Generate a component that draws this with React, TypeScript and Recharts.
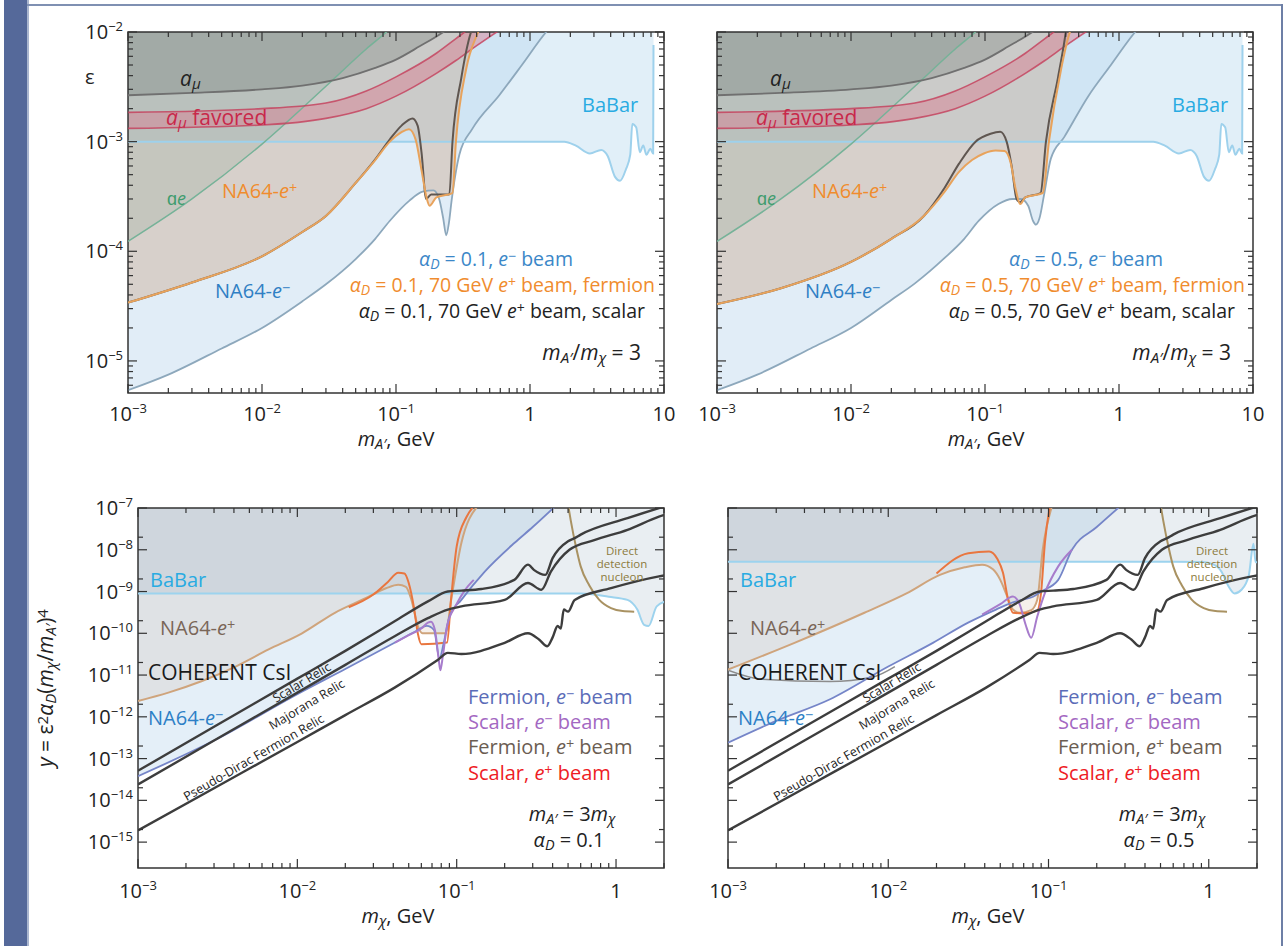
import React from "react"
import { ComposedChart, XAxis, YAxis, Area, Line, ReferenceArea } from "recharts"

type Pt = [number, number]
type BandPt = [number, number, number]

// ---------- top panels: epsilon vs m_A' (GeV) ----------
const amu: Pt[] = [[1e-3, 2.65e-3], [3e-3, 2.78e-3], [1e-2, 3.0e-3], [2e-2, 3.25e-3], [4e-2, 3.8e-3], [7e-2, 4.7e-3], [0.1, 5.6e-3], [0.15, 7.4e-3], [0.22, 9.8e-3], [0.3, 1.3e-2]]
const amuFavored: BandPt[] = [[1e-3, 1.32e-3, 1.85e-3], [1e-2, 1.42e-3, 2.0e-3], [3e-2, 1.63e-3, 2.25e-3], [6e-2, 2.0e-3, 2.9e-3], [0.1, 2.6e-3, 3.9e-3], [0.2, 4.2e-3, 6.4e-3], [0.28, 5.5e-3, 8.7e-3], [0.4, 7.5e-3, 1.2e-2], [0.6, 1.05e-2, 1.6e-2]]
const ae: Pt[] = [[1e-3, 1.23e-4], [3e-3, 3.0e-4], [1e-2, 9.5e-4], [3e-2, 3.2e-3], [6e-2, 7.0e-3], [0.085, 1.0e-2], [0.1, 1.2e-2]]
const babarTop: Pt[] = [[1e-3, 1e-3], [1.8, 1e-3], [2.2, 9.2e-4], [2.8, 7.8e-4], [3.4, 8.4e-4], [3.8, 7.4e-4], [4.3, 4.8e-4], [4.7, 4.4e-4], [5.2, 5.6e-4], [5.6, 7.6e-4], [5.8, 1.45e-3], [6.2, 1.35e-3], [6.6, 8.0e-4], [7.0, 9.2e-4], [7.4, 7.6e-4], [7.9, 8.6e-4], [8.3, 7.8e-4], [8.35, 7.6e-3]]

const na64eMinus01: Pt[] = [[1e-3, 5.4e-6], [2e-3, 7.5e-6], [5e-3, 1.3e-5], [1e-2, 2.0e-5], [2e-2, 3.5e-5], [3e-2, 5.0e-5], [5e-2, 8.5e-5], [7e-2, 1.3e-4], [9e-2, 1.9e-4], [0.126, 2.9e-4], [0.158, 3.5e-4], [0.19, 3.6e-4], [0.21, 3.0e-4], [0.225, 2.0e-4], [0.237, 1.4e-4], [0.248, 1.8e-4], [0.26, 2.9e-4], [0.297, 7.6e-4], [0.37, 1.3e-3], [0.59, 2.65e-3], [0.87, 5.0e-3], [1.32, 1.0e-2], [1.6, 1.3e-2]]
const na64ePosFermion01: Pt[] = [[1e-3, 3.4e-5], [3e-3, 5.2e-5], [1e-2, 9.0e-5], [2e-2, 1.5e-4], [3e-2, 2.1e-4], [5e-2, 4.2e-4], [7e-2, 6.8e-4], [9e-2, 1.0e-3], [0.11, 1.22e-3], [0.125, 1.3e-3], [0.14, 1.05e-3], [0.155, 5.5e-4], [0.17, 3.0e-4], [0.178, 2.6e-4], [0.2, 3.1e-4], [0.264, 3.4e-4], [0.28, 1.0e-3], [0.334, 4.6e-3], [0.41, 1.0e-2], [0.45, 1.3e-2]]
const na64ePosScalar01: Pt[] = [[1e-3, 3.4e-5], [3e-3, 5.2e-5], [1e-2, 9.0e-5], [2e-2, 1.5e-4], [3e-2, 2.1e-4], [5e-2, 4.2e-4], [7e-2, 6.9e-4], [9e-2, 1.05e-3], [0.11, 1.4e-3], [0.133, 1.63e-3], [0.145, 1.4e-3], [0.155, 8.0e-4], [0.168, 3.0e-4], [0.183, 3.3e-4], [0.25, 3.3e-4], [0.264, 1.0e-3], [0.307, 3.8e-3], [0.363, 1.0e-2], [0.4, 1.3e-2]]

const na64eMinus05: Pt[] = [[1e-3, 5.4e-6], [2e-3, 7.5e-6], [5e-3, 1.3e-5], [1e-2, 2.0e-5], [2e-2, 3.6e-5], [3e-2, 5.1e-5], [5e-2, 8.7e-5], [7e-2, 1.3e-4], [9e-2, 1.9e-4], [0.126, 2.7e-4], [0.16, 3.0e-4], [0.185, 3.0e-4], [0.21, 2.6e-4], [0.228, 1.9e-4], [0.24, 1.75e-4], [0.255, 2.0e-4], [0.275, 3.2e-4], [0.31, 7.0e-4], [0.39, 1.1e-3], [0.59, 2.6e-3], [0.87, 5.0e-3], [1.32, 1.0e-2], [1.6, 1.3e-2]]
const na64ePosFermion05: Pt[] = [[1e-3, 3.3e-5], [3e-3, 4.6e-5], [1e-2, 8.0e-5], [2e-2, 1.3e-4], [3.5e-2, 2.1e-4], [5e-2, 3.5e-4], [6.4e-2, 5.3e-4], [8e-2, 6.8e-4], [9.8e-2, 7.8e-4], [0.12, 8.3e-4], [0.14, 8.2e-4], [0.155, 6.5e-4], [0.17, 3.6e-4], [0.183, 2.7e-4], [0.2, 3.1e-4], [0.27, 3.4e-4], [0.3, 1.0e-3], [0.37, 4.6e-3], [0.43, 1.0e-2], [0.47, 1.3e-2]]
const na64ePosScalar05: Pt[] = [[1e-3, 3.3e-5], [3e-3, 4.6e-5], [1e-2, 8.0e-5], [2e-2, 1.3e-4], [3.5e-2, 2.1e-4], [5e-2, 3.8e-4], [6.4e-2, 6.3e-4], [8.5e-2, 1.0e-3], [0.11, 1.18e-3], [0.13, 1.23e-3], [0.145, 1.0e-3], [0.158, 6.0e-4], [0.172, 3.0e-4], [0.183, 2.8e-4], [0.2, 3.1e-4], [0.26, 3.4e-4], [0.285, 1.0e-3], [0.35, 3.8e-3], [0.39, 8.0e-3], [0.41, 1.2e-2]]

// ---------- bottom panels: y vs m_chi (GeV) ----------
const scalarRelic: Pt[] = [[1e-3, 5.1e-14], [3e-3, 5.8e-13], [1e-2, 8.2e-12], [2e-2, 3.8e-11], [4.08e-2, 1.94e-10], [6.6e-2, 5.8e-10], [8.8e-2, 1.0e-9], [0.107, 1.05e-9], [0.143, 1.15e-9], [0.23, 1.9e-9], [0.28, 4.4e-9], [0.305, 3.3e-9], [0.36, 2.5e-9], [0.4, 6.3e-9], [0.5, 1.6e-8], [0.55, 1.9e-8], [0.6, 2.3e-8], [1.18, 5.7e-8], [1.86, 1.0e-7], [2.1, 1.15e-7]]
const majoranaRelic: Pt[] = [[1e-3, 2.4e-14], [3e-3, 2.7e-13], [1e-2, 3.8e-12], [2e-2, 1.75e-11], [4.08e-2, 8.5e-11], [6.6e-2, 2.3e-10], [8.8e-2, 3.7e-10], [0.107, 4.4e-10], [0.2, 6.3e-10], [0.28, 1.6e-9], [0.34, 1.1e-9], [0.39, 3.0e-9], [0.51, 1.0e-8], [0.73, 1.7e-8], [1.18, 3.0e-8], [1.86, 6.2e-8], [2.1, 7.2e-8]]
const pseudoDiracRelic: Pt[] = [[1e-3, 1.9e-15], [3e-3, 1.95e-14], [1e-2, 2.5e-13], [2e-2, 1.1e-12], [4.08e-2, 5.0e-12], [7.6e-2, 2.3e-11], [8.8e-2, 3.4e-11], [0.107, 3.2e-11], [0.2, 5.9e-11], [0.28, 1.0e-10], [0.33, 7e-11], [0.37, 4.9e-11], [0.4, 8e-11], [0.43, 1.5e-10], [0.45, 1.3e-10], [0.47, 3.7e-10], [0.5, 3.3e-10], [0.55, 6.3e-10], [0.93, 1.2e-9], [1.86, 2.3e-9], [2.1, 2.5e-9]]
const directDetection: Pt[] = [[0.5, 1.2e-7], [0.52, 5e-8], [0.56, 1.2e-8], [0.6, 4e-9], [0.68, 1.4e-9], [0.78, 6.5e-10], [0.93, 4e-10], [1.1, 3.4e-10], [1.3, 3.3e-10]]

const babarBot01: Pt[] = [[1e-3, 9e-10], [0.6, 9e-10], [0.9, 7.5e-10], [1.18, 6.3e-10], [1.36, 3.7e-10], [1.5, 1.6e-10], [1.6, 1.5e-10], [1.8, 4.4e-10], [2.1, 6e-10]]
const fermionEp01: Pt[] = [[1e-3, 2.4e-12], [1.55e-3, 3.8e-12], [2.5e-3, 7.1e-12], [4.1e-3, 1.6e-11], [6.6e-3, 4.1e-11], [1.07e-2, 1.0e-10], [1.72e-2, 3.1e-10], [2.7e-2, 7.0e-10], [3.6e-2, 1.2e-9], [4.3e-2, 1.45e-9], [4.8e-2, 1.3e-9], [5.2e-2, 6.3e-10], [5.7e-2, 1.5e-10], [6.1e-2, 1.0e-10], [8.5e-2, 1.0e-10], [9.3e-2, 7.6e-10], [0.107, 1.45e-8], [0.135, 1.1e-7]]
const scalarEp01: Pt[] = [[2.1e-2, 4.2e-10], [3e-2, 8.5e-10], [3.7e-2, 1.7e-9], [4.3e-2, 2.8e-9], [4.7e-2, 2.7e-9], [5e-2, 1.6e-9], [5.4e-2, 4e-10], [5.7e-2, 1.0e-10], [6e-2, 5.5e-11], [8.7e-2, 6e-11], [9.2e-2, 6e-10], [0.1, 1.2e-8], [0.115, 6e-8], [0.128, 1.1e-7]]
const fermionEm01: Pt[] = [[1e-3, 3.8e-14], [3e-3, 2.7e-13], [1e-2, 3.5e-12], [2e-2, 1.4e-11], [4.1e-2, 6e-11], [5.5e-2, 1.1e-10], [6.5e-2, 1.5e-10], [7.2e-2, 1.2e-10], [7.8e-2, 2.5e-11], [8.3e-2, 6e-11], [9e-2, 2.5e-10], [0.107, 6.3e-10], [0.15, 3e-9], [0.23, 1.45e-8], [0.3, 3.5e-8], [0.41, 1.05e-7]]
const scalarEm01: Pt[] = [[4.1e-2, 6e-11], [5e-2, 9e-11], [6e-2, 1.3e-10], [6.6e-2, 1.8e-10], [6.9e-2, 1.9e-10], [7.3e-2, 1.2e-10], [7.7e-2, 2.5e-11], [7.9e-2, 1.3e-11], [8.2e-2, 3e-11], [8.7e-2, 1.5e-10], [9.8e-2, 4.4e-10], [0.113, 1.1e-9], [0.128, 1.9e-9]]

const babarBot05: Pt[] = [[1e-3, 5.2e-9], [0.6, 5.2e-9], [0.9, 5.1e-9], [1.05, 4.6e-9], [1.2, 3e-9], [1.32, 1.4e-9], [1.45, 9e-10], [1.6, 1.1e-9], [1.78, 2.5e-9], [1.9, 1.4e-8], [1.96, 5e-9], [2.1, 5e-9]]
const fermionEp05: Pt[] = [[1e-3, 1.35e-11], [2.6e-3, 5.9e-11], [7.1e-3, 3.1e-10], [1.3e-2, 9e-10], [2.1e-2, 2.5e-9], [3e-2, 3.8e-9], [3.85e-2, 4.4e-9], [4.5e-2, 3.4e-9], [5e-2, 1.9e-9], [5.5e-2, 8e-10], [6e-2, 3.7e-10], [6.6e-2, 3.1e-10], [7.8e-2, 3.6e-10], [8.5e-2, 6.3e-10], [9.2e-2, 1e-8], [0.105, 1.1e-7]]
const scalarEp05: Pt[] = [[2e-2, 2.7e-9], [3.16e-2, 8.3e-9], [4.26e-2, 9.1e-9], [4.8e-2, 6e-9], [5.2e-2, 2.8e-9], [5.6e-2, 6.3e-10], [6e-2, 3.1e-10], [7e-2, 3e-10], [8.5e-2, 3.5e-10], [9e-2, 1e-9], [9.5e-2, 1.5e-8], [0.102, 1.1e-7]]
const fermionEm05: Pt[] = [[1e-3, 2.4e-13], [2e-3, 8e-13], [4.3e-3, 2.6e-12], [1e-2, 1.6e-11], [1.9e-2, 5.9e-11], [3.15e-2, 1.8e-10], [4.7e-2, 3.7e-10], [6e-2, 5.5e-10], [7e-2, 6.5e-10], [8e-2, 7.5e-10], [9e-2, 1e-9], [0.115, 1.9e-9], [0.14, 1e-8], [0.2, 3.5e-8], [0.28, 1.1e-7]]
const scalarEm05: Pt[] = [[3.85e-2, 2.8e-10], [5e-2, 5e-10], [6e-2, 7.6e-10], [6.6e-2, 5e-10], [7.2e-2, 1.6e-10], [7.8e-2, 7.8e-11], [8.5e-2, 2.5e-10], [9.5e-2, 9.3e-10], [0.115, 4e-9], [0.14, 1e-8]]
const coherent05: Pt[] = [[1e-3, 1.3e-11], [1.6e-3, 8e-12], [4.3e-3, 7e-12], [8e-3, 9e-12], [1.1e-2, 1.6e-11]]

// axes
const topXDomain: [number, number] = [1e-3, 10]
const topYDomain: [number, number] = [5.1e-6, 1e-2]
const botXDomain: [number, number] = [1e-3, 2]
const botYDomain: [number, number] = [2.4e-16, 1e-7]
const minorMults = [1, 2, 3, 4, 5, 6, 7, 8, 9]
const botYMults = [1, 2]

function logTicks(lo: number, hi: number, mults: number[]) {
  const out: number[] = []
  for (let e = Math.floor(Math.log10(lo)); e <= Math.ceil(Math.log10(hi)); e++) {
    for (const m of mults) {
      const v = m * Math.pow(10, e)
      if (v >= lo * 0.9999 && v <= hi * 1.0001) out.push(v)
    }
  }
  return out
}

const rows = (a: Pt[]) => a.map(([x, y]) => ({ x, y }))
const bandRows = (a: BandPt[]) => a.map(([x, lo, hi]) => ({ x, lo, hi }))

const FONT = "'Open Sans', sans-serif"
const AX = "#333"

const isMajor = (v: number) => Math.abs(Math.log10(v) - Math.round(Math.log10(v))) < 1e-6

const tickText = (v: number) => {
  const e = Math.round(Math.log10(v))
  if (e === 0) return "1"
  if (e === 1) return "10"
  return (
    <>
      10<tspan dy={-8} fontSize={13}>{e < 0 ? "\u2212" + -e : e}</tspan>
    </>
  )
}

const makeXTick = (plotH: number, labelDy: number) => (p: any) => {
  const { x, y, payload } = p
  const major = isMajor(payload.value)
  const len = major ? 9 : 5
  return (
    <g>
      <line x1={x} x2={x} y1={y} y2={y - len} stroke={AX} strokeWidth={1.2} />
      <line x1={x} x2={x} y1={y - plotH} y2={y - plotH + len} stroke={AX} strokeWidth={1.2} />
      {major && (
        <text x={x} y={y + labelDy} textAnchor="middle" fontSize={20} fontFamily={FONT} fill="#222">
          {tickText(payload.value)}
        </text>
      )}
    </g>
  )
}

const makeYTick = (plotW: number, showLabel: boolean) => (p: any) => {
  const { x, y, payload } = p
  const major = isMajor(payload.value)
  const len = major ? 9 : 5
  return (
    <g>
      <line x1={x} x2={x + len} y1={y} y2={y} stroke={AX} strokeWidth={1.2} />
      <line x1={x + plotW} x2={x + plotW - len} y1={y} y2={y} stroke={AX} strokeWidth={1.2} />
      {major && showLabel && (
        <text x={x - 5} y={y + 7} textAnchor="end" fontSize={20} fontFamily={FONT} fill="#222">
          {tickText(payload.value)}
        </text>
      )}
    </g>
  )
}

const fillAbove = (key: string, data: Pt[], top: number, color: string, opacity: number) => (
  <Area key={key} data={rows(data)} dataKey="y" type="monotone" baseValue={top} stroke="none" fill={color} fillOpacity={opacity} dot={false} activeDot={false} isAnimationActive={false} />
)

const curve = (key: string, data: Pt[], color: string, width: number, opacity = 1) => (
  <Line key={key} data={rows(data)} dataKey="y" type="monotone" stroke={color} strokeWidth={width} strokeOpacity={opacity} dot={false} activeDot={false} isAnimationActive={false} />
)

type PanelProps = {
  x: number
  y: number
  w: number
  h: number
  margin: { top: number; right: number; bottom: number; left: number }
  xDomain: [number, number]
  yDomain: [number, number]
  xTicks: number[]
  yTicks: number[]
  showYLabels: boolean
  xLabelDy: number
  series: React.ReactNode[]
}

// the axes themselves are 1px wide/high, so the plot box is margin + 1
const Panel = ({ x, y, w, h, margin, xDomain, yDomain, xTicks, yTicks, showYLabels, xLabelDy, series }: PanelProps) => {
  const plotW = w - margin.left - margin.right - 1
  const plotH = h - margin.top - margin.bottom - 1
  return (
    <div style={{ position: "absolute", left: x, top: y }}>
      <ComposedChart width={w} height={h} margin={margin}>
        <XAxis type="number" dataKey="x" scale="log" domain={xDomain} allowDataOverflow ticks={xTicks} interval={0} height={1} tickSize={0} tickMargin={0} axisLine={false} tickLine={false} tick={makeXTick(plotH, xLabelDy)} />
        <YAxis type="number" scale="log" domain={yDomain} allowDataOverflow ticks={yTicks} interval={0} width={1} tickSize={0} tickMargin={0} axisLine={false} tickLine={false} tick={makeYTick(plotW, showYLabels)} />
        {series}
        <ReferenceArea x1={xDomain[0]} x2={xDomain[1]} y1={yDomain[0]} y2={yDomain[1]} fill="none" stroke={AX} strokeWidth={1.5} ifOverflow="visible" />
      </ComposedChart>
    </div>
  )
}

const topSeries = (eMinus: Pt[], ePosF: Pt[], ePosS: Pt[]) => {
  const top = topYDomain[1]
  return [
    fillAbove("f-em", eMinus, top, "#c9dff0", 0.55),
    fillAbove("f-babar", babarTop, top, "#bcdcf0", 0.45),
    fillAbove("f-ep", ePosF, top, "#c09068", 0.3),
    fillAbove("f-ae", ae, top, "#5f8f7a", 0.15),
    fillAbove("f-amu", amu, top, "#5d6662", 0.25),
    <Area key="band" data={bandRows(amuFavored)} dataKey={(d: any) => [d.lo, d.hi]} type="monotone" stroke="none" fill="#d97b8f" fillOpacity={0.45} dot={false} activeDot={false} isAnimationActive={false} />,
    curve("l-em", eMinus, "#8da8bc", 1.8),
    curve("l-babar", babarTop, "#9ed1ec", 2),
    curve("l-ae", ae, "#76b298", 1.5),
    curve("l-amu", amu, "#707070", 1.8),
    <Line key="band-lo" data={bandRows(amuFavored)} dataKey="lo" type="monotone" stroke="#c43d5a" strokeWidth={1.6} strokeOpacity={0.8} dot={false} activeDot={false} isAnimationActive={false} />,
    <Line key="band-hi" data={bandRows(amuFavored)} dataKey="hi" type="monotone" stroke="#c43d5a" strokeWidth={1.6} strokeOpacity={0.8} dot={false} activeDot={false} isAnimationActive={false} />,
    curve("l-eps", ePosS, "#5f5650", 2),
    curve("l-ep", ePosF, "#e8a35c", 2),
  ]
}

const bottomSeries = (babar: Pt[], fEm: Pt[], sEm: Pt[], fEp: Pt[], sEp: Pt[], coherent?: Pt[]) => {
  const top = botYDomain[1]
  const out: React.ReactNode[] = [
    fillAbove("f-em", fEm, top, "#c4dcef", 0.45),
    fillAbove("f-ep", fEp, top, "#c8a080", 0.16),
    fillAbove("f-babar", babar, top, "#8fa8c0", 0.2),
    curve("l-babar", babar, "#9dd3ee", 2),
  ]
  if (coherent) out.push(curve("l-coh", coherent, "#8c8c8c", 1.5))
  out.push(
    curve("l-fep", fEp, "#cfa47c", 2),
    curve("l-sep", sEp, "#e9763f", 2),
    curve("l-fem", fEm, "#7585c8", 1.8),
    curve("l-sem", sEm, "#a77ccc", 2),
    curve("l-dd", directDetection, "#a99262", 2),
    curve("l-sr", scalarRelic, "#3d3d3d", 2.4),
    curve("l-mr", majoranaRelic, "#3d3d3d", 2.4),
    curve("l-pd", pseudoDiracRelic, "#3d3d3d", 2.4),
  )
  return out
}

// ---------- text helpers ----------
const I = ({ children }: { children: React.ReactNode }) => <span style={{ fontStyle: "italic" }}>{children}</span>
const Sub = ({ children }: { children: React.ReactNode }) => <span style={{ fontSize: "0.72em", position: "relative", top: "0.22em", lineHeight: 1 }}>{children}</span>
const Sup = ({ children }: { children: React.ReactNode }) => <span style={{ fontSize: "0.72em", position: "relative", top: "-0.36em", lineHeight: 1 }}>{children}</span>

type NoteProps = { x: number; y: number; align?: "left" | "center" | "right"; color?: string; size?: number; rotate?: number; children: React.ReactNode }
const Note = ({ x, y, align = "left", color = "#222", size = 20, rotate, children }: NoteProps) => {
  const tx = align === "left" ? "0" : align === "center" ? "-50%" : "-100%"
  return (
    <div style={{ position: "absolute", left: x, top: y, transform: `translate(${tx}, -50%)${rotate ? ` rotate(${rotate}deg)` : ""}`, color, fontSize: size, whiteSpace: "nowrap", lineHeight: 1, pointerEvents: "none" }}>
      {children}
    </div>
  )
}

const aD = (
  <>
    <I>α</I>
    <Sub>
      <I>D</I>
    </Sub>
  </>
)

const TopNotes = ({ dx, alpha }: { dx: number; alpha: string }) => (
  <>
    {dx === 0 && <Note x={85} y={77}>ε</Note>}
    <Note x={180 + dx} y={78} size={21}>
      <I>a</I>
      <Sub>
        <I>μ</I>
      </Sub>
    </Note>
    <Note x={166 + dx} y={117} color="#c8284a" size={21}>
      <I>a</I>
      <Sub>
        <I>μ</I>
      </Sub>{" "}
      favored
    </Note>
    <Note x={167 + dx} y={198} color="#3f9c6e" size={18}>
      ɑ<I>e</I>
    </Note>
    <Note x={222 + dx} y={191} color="#f08c2e">
      NA64-<I>e</I>
      <Sup>+</Sup>
    </Note>
    <Note x={215 + dx} y={291} color="#2f7fc4">
      NA64-<I>e</I>
      <Sup>−</Sup>
    </Note>
    <Note x={496 + dx} y={259} align="center" color="#3b87c8" size={19.5}>
      {aD} = {alpha}, <I>e</I>
      <Sup>−</Sup> beam
    </Note>
    <Note x={655 + dx} y={285} align="right" color="#f08c2e" size={19.5}>
      {aD} = {alpha}, 70 GeV <I>e</I>
      <Sup>+</Sup> beam, fermion
    </Note>
    <Note x={645 + dx} y={311} align="right" size={19.5}>
      {aD} = {alpha}, 70 GeV <I>e</I>
      <Sup>+</Sup> beam, scalar
    </Note>
    <Note x={641 + dx} y={352} align="right" size={21}>
      <I>m</I>
      <Sub>
        <I>A′</I>
      </Sub>
      /<I>m</I>
      <Sub>
        <I>χ</I>
      </Sub>{" "}
      = 3
    </Note>
    <Note x={582 + dx} y={105} color="#29abe2">
      BaBar
    </Note>
    <Note x={396 + dx} y={439} align="center">
      <I>m</I>
      <Sub>
        <I>A′</I>
      </Sub>
      , GeV
    </Note>
  </>
)

const BottomNotes = ({ dx, alpha }: { dx: number; alpha: string }) => (
  <>
    <Note x={150 + dx} y={580} color="#29abe2">
      BaBar
    </Note>
    <Note x={160 + dx} y={628} color="#7a6658">
      NA64-<I>e</I>
      <Sup>+</Sup>
    </Note>
    <Note x={148 + dx} y={672} color="#1a1a1a" size={21}>
      COHERENT CsI
    </Note>
    <Note x={148 + dx} y={718} color="#2d7fc6">
      NA64-<I>e</I>
      <Sup>−</Sup>
    </Note>
    <Note x={302 + dx} y={683} align="center" size={12.5} rotate={-31}>
      Scalar Relic
    </Note>
    <Note x={307 + dx} y={705} align="center" size={12.5} rotate={-31}>
      Majorana Relic
    </Note>
    <Note x={254 + dx} y={758} align="center" size={12.5} rotate={-30}>
      Pseudo-Dirac Fermion Relic
    </Note>
    <Note x={468 + dx} y={697} color="#5b6cb8">
      Fermion, <I>e</I>
      <Sup>−</Sup> beam
    </Note>
    <Note x={468 + dx} y={722} color="#a368c2">
      Scalar, <I>e</I>
      <Sup>−</Sup> beam
    </Note>
    <Note x={468 + dx} y={747} color="#6b5d52">
      Fermion, <I>e</I>
      <Sup>+</Sup> beam
    </Note>
    <Note x={468 + dx} y={773} color="#ee1c25">
      Scalar, <I>e</I>
      <Sup>+</Sup> beam
    </Note>
    <Note x={572 + dx} y={814} align="center">
      <I>m</I>
      <Sub>
        <I>A′</I>
      </Sub>{" "}
      = 3<I>m</I>
      <Sub>
        <I>χ</I>
      </Sub>
    </Note>
    <Note x={569 + dx} y={840} align="center">
      {aD} = {alpha}
    </Note>
    <Note x={622 + dx} y={551} align="center" color="#8b7a3c" size={11.5}>
      Direct
    </Note>
    <Note x={622 + dx} y={564} align="center" color="#8b7a3c" size={11.5}>
      detection
    </Note>
    <Note x={622 + dx} y={577} align="center" color="#8b7a3c" size={11.5}>
      nucleon
    </Note>
    <Note x={398 + dx} y={916} align="center">
      <I>m</I>
      <Sub>
        <I>χ</I>
      </Sub>
      , GeV
    </Note>
  </>
)

const App = () => {
  const topXTicks = logTicks(topXDomain[0], topXDomain[1], minorMults)
  const topYTicks = logTicks(topYDomain[0], topYDomain[1], minorMults)
  const botXTicks = logTicks(botXDomain[0], botXDomain[1], minorMults)
  const botYTicks = logTicks(botYDomain[0], botYDomain[1], botYMults)
  const topMargin = { top: 32, bottom: 66 }
  const botMargin = { top: 38, bottom: 77 }
  return (
    <div style={{ position: "absolute", left: 0, top: 0, width: 1288, height: 946, background: "#fff", fontFamily: FONT, overflow: "hidden" }}>
      <div style={{ position: "absolute", left: 4, top: 0, width: 23, height: 946, background: "#55699a" }} />
      <div style={{ position: "absolute", left: 27, top: 0, width: 2, height: 946, background: "#aab6cf" }} />
      <div style={{ position: "absolute", left: 27, top: 4, width: 1256, height: 2, background: "#7f90b2" }} />
      <div style={{ position: "absolute", left: 1281, top: 4, width: 2, height: 942, background: "#6d7fa6" }} />

      <Panel x={0} y={0} w={680} h={460} margin={{ ...topMargin, left: 127, right: 16 }} xDomain={topXDomain} yDomain={topYDomain} xTicks={topXTicks} yTicks={topYTicks} showYLabels xLabelDy={28} series={topSeries(na64eMinus01, na64ePosFermion01, na64ePosScalar01)} />
      <Panel x={690} y={0} w={590} h={460} margin={{ ...topMargin, left: 26, right: 27 }} xDomain={topXDomain} yDomain={topYDomain} xTicks={topXTicks} yTicks={topYTicks} showYLabels={false} xLabelDy={28} series={topSeries(na64eMinus05, na64ePosFermion05, na64ePosScalar05)} />
      <Panel x={0} y={470} w={680} h={476} margin={{ ...botMargin, left: 137, right: 16 }} xDomain={botXDomain} yDomain={botYDomain} xTicks={botXTicks} yTicks={botYTicks} showYLabels xLabelDy={30} series={bottomSeries(babarBot01, fermionEm01, scalarEm01, fermionEp01, scalarEp01)} />
      <Panel x={690} y={470} w={590} h={476} margin={{ ...botMargin, left: 37, right: 23 }} xDomain={botXDomain} yDomain={botYDomain} xTicks={botXTicks} yTicks={botYTicks} showYLabels={false} xLabelDy={30} series={bottomSeries(babarBot05, fermionEm05, scalarEm05, fermionEp05, scalarEp05, coherent05)} />

      <TopNotes dx={0} alpha="0.1" />
      <TopNotes dx={590} alpha="0.5" />
      <BottomNotes dx={0} alpha="0.1" />
      <BottomNotes dx={590} alpha="0.5" />

      <div style={{ position: "absolute", left: 45, top: 688, transform: "translate(-50%, -50%) rotate(-90deg)", fontSize: 21, whiteSpace: "nowrap", lineHeight: 1, color: "#222" }}>
        <I>y</I> = ε<Sup>2</Sup>
        {aD}(<I>m</I>
        <Sub>
          <I>χ</I>
        </Sub>
        /<I>m</I>
        <Sub>
          <I>A′</I>
        </Sub>
        )<Sup>4</Sup>
      </div>
    </div>
  )
}

export default App
